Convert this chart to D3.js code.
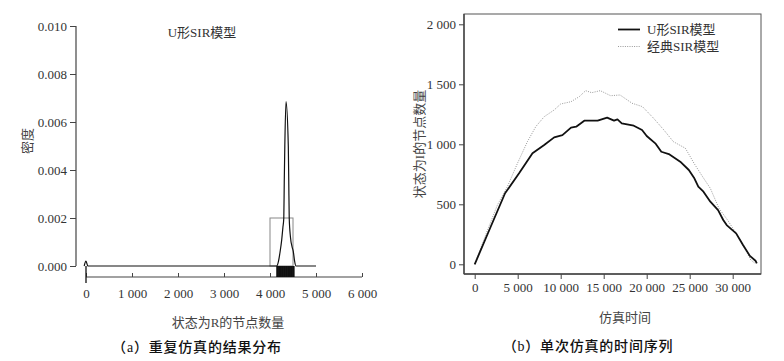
<!DOCTYPE html>
<html><head><meta charset="utf-8">
<script src="https://cdn.jsdelivr.net/npm/d3@7"></script>
<style>
html,body{margin:0;padding:0;background:#fff;}
svg{display:block;}
text{font-family:"Liberation Serif","Noto Sans CJK SC",serif;}
</style></head>
<body>
<svg id="c" width="784" height="361"></svg>
<script>
// ---------- data: panel (a) ----------
const densX = [-40, 0, 40, 4145, 4185, 4220, 4255, 4280, 4300, 4310, 4322, 4348, 4398, 4408, 4418, 4445, 4480, 4507, 4535, 4565, 5000];
const densY = [0, 0.0002, 0, 0, 0.0002, 0.0006, 0.0011, 0.0016, 0.002, 0.0035, 0.005, 0.00685, 0.005, 0.0035, 0.002, 0.0012, 0.0008, 0.0006, 0.0002, 0, 0];
const histBins = [4000, 4500];
const histDensity = [0.002];
const rugValues = [0, 4150, 4165, 4180, 4195, 4210, 4225, 4240, 4255, 4270, 4285, 4300, 4315, 4330, 4345, 4360, 4375, 4390, 4405, 4420, 4435, 4450, 4465, 4480, 4495, 4510, 4520];
const aYTicks = [0, 0.002, 0.004, 0.006, 0.008, 0.010];
const aYLabels = ["0.000", "0.002", "0.004", "0.006", "0.008", "0.010"];
const aXTicks = [0, 1000, 2000, 3000, 4000, 5000, 6000];
const aXLabels = ["0", "1 000", "2 000", "3 000", "4 000", "5 000", "6 000"];

// ---------- data: panel (b) ----------
const tU = [0, 1860, 3530, 5160, 6720, 8080, 9240, 10200, 11200, 11800, 12740, 14300, 15400, 16200, 16600, 17100, 18500, 19460, 20000, 21000, 21700, 22570, 23900, 24900, 25500, 26000, 26600, 27400, 28300, 28900, 29300, 30400, 31200, 32000, 32650, 32800];
const vU = [0, 313, 592, 758, 925, 994, 1058, 1077, 1139, 1147, 1197, 1197, 1222, 1197, 1208, 1175, 1155, 1119, 1069, 1008, 938, 919, 855, 786, 722, 647, 605, 522, 452, 369, 327, 258, 161, 70, 30, 8];
const tC = [0, 1300, 2640, 3800, 4970, 6130, 7100, 8080, 9240, 10000, 11200, 12160, 12900, 13600, 14600, 15800, 16900, 18300, 19500, 20800, 22000, 23100, 24500, 25500, 26500, 27400, 28400, 29400, 30400, 31400, 32100, 32600];
const vC = [0, 250, 494, 647, 841, 1022, 1147, 1230, 1286, 1336, 1355, 1397, 1447, 1430, 1447, 1405, 1411, 1342, 1314, 1217, 1119, 1022, 967, 842, 730, 633, 467, 369, 258, 133, 36, 8];
const bYTicks = [0, 500, 1000, 1500, 2000];
const bYLabels = ["0", "500", "1 000", "1 500", "2 000"];
const bXTicks = [0, 5000, 10000, 15000, 20000, 25000, 30000];
const bXLabels = ["0", "5 000", "10 000", "15 000", "20 000", "25 000", "30 000"];
const seriesNames = ["U形SIR模型", "经典SIR模型"];

const svg = d3.select("#c");
const tickColor = "#333";

// ================= panel (a) =================
const ax = d3.scaleLinear().domain([0, 6000]).range([86, 362]);
const ay = d3.scaleLinear().domain([0, 0.010]).range([266, 26]);
const ga = svg.append("g");

const yAxA = d3.axisLeft(ay).tickValues(aYTicks).tickFormat((d, i) => aYLabels[i]).tickSize(6).tickPadding(3);
const gya = ga.append("g").attr("transform", "translate(76,0)").call(yAxA);
gya.select(".domain").attr("d", `M0,${ay(0.010)}V${ay(0)}`).attr("stroke", "#444").attr("stroke-width", 1.2);
gya.selectAll(".tick line").attr("stroke", "#444");
gya.selectAll(".tick text").attr("font-size", 13).attr("fill", tickColor).attr("font-family", "Liberation Serif");

const xAxA = d3.axisBottom(ax).tickValues(aXTicks).tickFormat((d, i) => aXLabels[i]).tickSize(-4).tickPadding(12);
const gxa = ga.append("g").attr("transform", "translate(0,277)").call(xAxA);
gxa.select(".domain").attr("d", `M${ax(0)},0H${ax(6000)}`).attr("stroke", "#444").attr("stroke-width", 1.2);
gxa.selectAll(".tick line").attr("stroke", "#444");
gxa.selectAll(".tick text").attr("font-size", 13).attr("fill", tickColor).attr("font-family", "Liberation Serif");

ga.selectAll("rect.hist").data(histDensity).enter().append("rect")
  .attr("x", (d, i) => ax(histBins[i])).attr("width", (d, i) => ax(histBins[i + 1]) - ax(histBins[i]))
  .attr("y", d => ay(d)).attr("height", d => ay(0) - ay(d))
  .attr("fill", "none").attr("stroke", "#888").attr("stroke-width", 1);

ga.selectAll("line.rug").data(rugValues).enter().append("line")
  .attr("x1", d => ax(d)).attr("x2", d => ax(d))
  .attr("y1", ay(0)).attr("y2", d => d === 0 ? 283 : 277)
  .attr("stroke", "#111").attr("stroke-width", 1.3);

const densLine = d3.line().x(d => ax(d[0])).y(d => ay(d[1])).curve(d3.curveMonotoneX);
ga.append("path").datum(densX.map((x, i) => [x, densY[i]]))
  .attr("d", densLine).attr("fill", "none").attr("stroke", "#111").attr("stroke-width", 1.2);

ga.append("text").attr("x", 202).attr("y", 37).attr("text-anchor", "middle").attr("font-size", 13).attr("fill", "#333").text("U形SIR模型");
ga.append("text").attr("transform", "translate(32,141) rotate(-90)").attr("text-anchor", "middle").attr("font-size", 13).attr("fill", "#444").text("密度");
ga.append("text").attr("x", 228).attr("y", 327).attr("text-anchor", "middle").attr("font-size", 13).attr("fill", "#444").text("状态为R的节点数量");
ga.append("text").attr("x", 197).attr("y", 352).attr("text-anchor", "middle").attr("font-size", 14).attr("fill", "#111").attr("font-weight", 500).attr("letter-spacing", 0.8).text("（a）重复仿真的结果分布");

// ================= panel (b) =================
const bx = d3.scaleLinear().domain([0, 30000]).range([474.7, 732.7]);
const by = d3.scaleLinear().domain([0, 2000]).range([264.3, 24.3]);
const gb = svg.append("g");

gb.append("rect").attr("x", 464).attr("y", 14).attr("width", 297).attr("height", 260)
  .attr("fill", "none").attr("stroke", "#555").attr("stroke-width", 1);

const yAxB = d3.axisLeft(by).tickValues(bYTicks).tickFormat((d, i) => bYLabels[i]).tickSize(5).tickPadding(3);
const gyb = gb.append("g").attr("transform", "translate(464,0)").call(yAxB);
gyb.select(".domain").attr("d", "M0,14V274").attr("stroke", "#444").attr("stroke-width", 1.4);
gyb.selectAll(".tick line").attr("stroke", "#444");
gyb.selectAll(".tick text").attr("font-size", 13).attr("fill", tickColor).attr("font-family", "Liberation Serif");

const xAxB = d3.axisBottom(bx).tickValues(bXTicks).tickFormat((d, i) => bXLabels[i]).tickSize(5).tickPadding(4);
const gxb = gb.append("g").attr("transform", "translate(0,274)").call(xAxB);
gxb.select(".domain").attr("d", "M464,0H761").attr("stroke", "#444").attr("stroke-width", 1.4);
gxb.selectAll(".tick line").attr("stroke", "#444");
gxb.selectAll(".tick text").attr("font-size", 13).attr("fill", tickColor).attr("font-family", "Liberation Serif");

const lineB = d3.line().x(d => bx(d[0])).y(d => by(d[1]));
gb.append("path").datum(tC.map((t, i) => [t, vC[i]]))
  .attr("d", lineB).attr("fill", "none").attr("stroke", "#999").attr("stroke-width", 1).attr("stroke-dasharray", "1,1.3");
gb.append("path").datum(tU.map((t, i) => [t, vU[i]]))
  .attr("d", lineB).attr("fill", "none").attr("stroke", "#111").attr("stroke-width", 1.8).attr("stroke-linejoin", "round");

const leg = gb.append("g");
leg.append("line").attr("x1", 618).attr("x2", 640).attr("y1", 29.5).attr("y2", 29.5).attr("stroke", "#111").attr("stroke-width", 1.8);
leg.append("line").attr("x1", 618).attr("x2", 640).attr("y1", 46.5).attr("y2", 46.5).attr("stroke", "#999").attr("stroke-width", 1).attr("stroke-dasharray", "1,1.3");
leg.append("text").attr("x", 647).attr("y", 34).attr("font-size", 13).attr("fill", "#333").text(seriesNames[0]);
leg.append("text").attr("x", 647).attr("y", 51).attr("font-size", 13).attr("fill", "#333").text(seriesNames[1]);

gb.append("text").attr("transform", "translate(424,144) rotate(-90)").attr("text-anchor", "middle").attr("font-size", 13).attr("fill", "#444").text("状态为I的节点数量");
gb.append("text").attr("x", 625).attr("y", 322).attr("text-anchor", "middle").attr("font-size", 13).attr("fill", "#444").text("仿真时间");
gb.append("text").attr("x", 588).attr("y", 351).attr("text-anchor", "middle").attr("font-size", 14).attr("fill", "#111").attr("font-weight", 500).attr("letter-spacing", 0.8).text("（b）单次仿真的时间序列");
</script>
</body></html>
